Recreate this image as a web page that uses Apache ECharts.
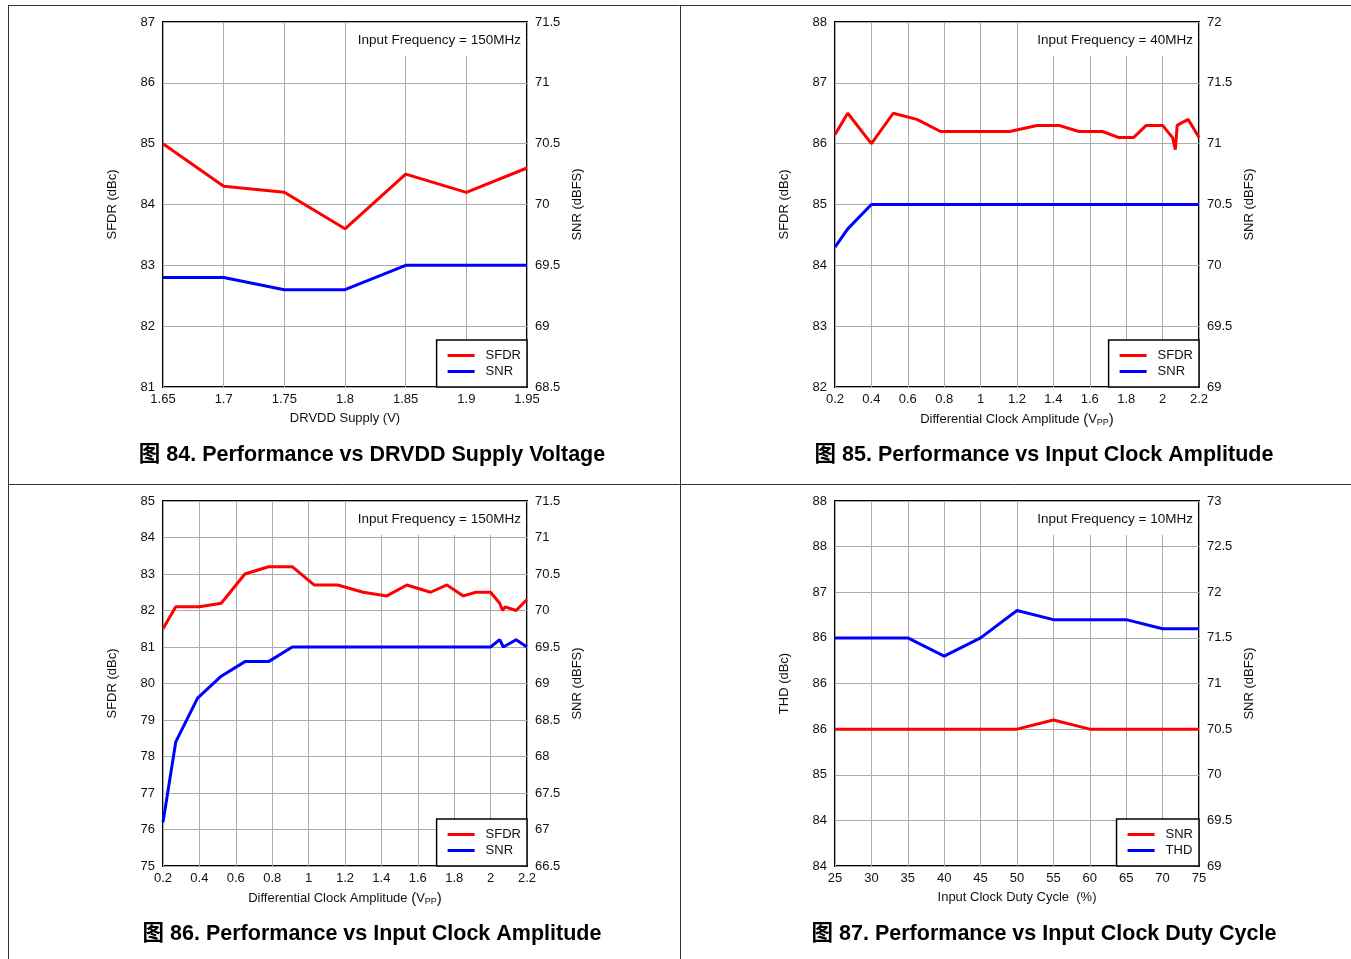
<!DOCTYPE html>
<html>
<head>
<meta charset="utf-8">
<script src="https://cdn.jsdelivr.net/npm/echarts@6/dist/echarts.min.js"></script>
<style>
html,body{margin:0;padding:0;background:#fff;}
#main{width:1351px;height:959px;}
</style>
</head>
<body>
<div id="main"></div>
<script>
// ---------- Data ----------
// Fig 84: Performance vs DRVDD Supply Voltage
const c1X = [1.65, 1.7, 1.75, 1.8, 1.85, 1.9, 1.95];
const c1SFDR = [85, 84.3, 84.2, 83.6, 84.5, 84.2, 84.6];
const c1SNR = [69.4, 69.4, 69.3, 69.3, 69.5, 69.5, 69.5];

// Fig 85: Performance vs Input Clock Amplitude (40MHz)
const c2X = [0.2, 0.27, 0.4, 0.52, 0.65, 0.78, 1.16, 1.31, 1.43, 1.54, 1.67, 1.76, 1.84, 1.91, 2.0, 2.055, 2.07, 2.08, 2.14, 2.2];
const c2SFDR = [86.15, 86.5, 86.0, 86.5, 86.4, 86.2, 86.2, 86.3, 86.3, 86.2, 86.2, 86.1, 86.1, 86.3, 86.3, 86.1, 85.9, 86.3, 86.4, 86.1];
const c2SNR = [70.15, 70.3, 70.5, 70.5, 70.5, 70.5, 70.5, 70.5, 70.5, 70.5, 70.5, 70.5, 70.5, 70.5, 70.5, 70.5, 70.5, 70.5, 70.5, 70.5];

// Fig 86: Performance vs Input Clock Amplitude (150MHz)
const c3X = [0.2, 0.27, 0.4, 0.52, 0.65, 0.78, 0.91, 1.03, 1.16, 1.3, 1.43, 1.54, 1.67, 1.76, 1.85, 1.92, 2.0, 2.05, 2.066, 2.08, 2.14, 2.2];
const c3SFDR = [81.5, 82.1, 82.1, 82.2, 83.0, 83.2, 83.2, 82.7, 82.7, 82.5, 82.4, 82.7, 82.5, 82.7, 82.4, 82.5, 82.5, 82.2, 82.0, 82.1, 82.0, 82.3];
const c3SnrX = [0.2, 0.27, 0.39, 0.52, 0.65, 0.78, 0.91, 1.2, 1.6, 2.0, 2.05, 2.07, 2.14, 2.2];
const c3SNR = [67.1, 68.2, 68.8, 69.1, 69.3, 69.3, 69.5, 69.5, 69.5, 69.5, 69.6, 69.5, 69.6, 69.5];

// Fig 87: Performance vs Input Clock Duty Cycle
const c4X = [25, 30, 35, 40, 45, 50, 55, 60, 65, 70, 75];
const c4THD = [86.5, 86.5, 86.5, 86.3, 86.5, 86.8, 86.7, 86.7, 86.7, 86.6, 86.6];
const c4SNR = [70.5, 70.5, 70.5, 70.5, 70.5, 70.5, 70.6, 70.5, 70.5, 70.5, 70.5];
const c4ThdTickLabels = ['84', '84', '85', '86', '86', '86', '87', '88', '88'];

const captions = [
  '图 84. Performance vs DRVDD Supply Voltage',
  '图 85. Performance vs Input Clock Amplitude',
  '图 86. Performance vs Input Clock Amplitude',
  '图 87. Performance vs Input Clock Duty Cycle'
];
const notes = ['Input Frequency = 150MHz', 'Input Frequency = 40MHz', 'Input Frequency = 150MHz', 'Input Frequency = 10MHz'];

// ---------- Layout ----------
const FONT = '"Liberation Sans", Arial, "Noto Sans CJK SC", sans-serif';
const TXT = '#111';
const GRIDC = '#ababab';
const RED = '#ff0000', BLUE = '#0000ff';
const W = 1351, H = 959;
const panels = [
  {left: 163, top: 22},
  {left: 835, top: 22},
  {left: 163, top: 501},
  {left: 835, top: 501}
];
const PW = 364, PH = 365;

const zip = (xs, ys) => xs.map((x, i) => [x, ys[i]]);

const xCfg = [
  {min: 1.65, max: 1.95, interval: 0.05, name: 'DRVDD Supply (V)'},
  {min: 0.2, max: 2.2, interval: 0.2, name: 'Differential Clock Amplitude {s|(}V{sub|PP}{s|)}'},
  {min: 0.2, max: 2.2, interval: 0.2, name: 'Differential Clock Amplitude {s|(}V{sub|PP}{s|)}'},
  {min: 25, max: 75, interval: 5, name: 'Input Clock Duty Cycle  (%)'}
];
const yL = [
  {min: 81, max: 87, interval: 1, name: 'SFDR (dBc)'},
  {min: 82, max: 88, interval: 1, name: 'SFDR (dBc)'},
  {min: 75, max: 85, interval: 1, name: 'SFDR (dBc)'},
  {min: 84, max: 88, interval: 0.5, name: 'THD (dBc)', fmt: (v, i) => c4ThdTickLabels[i]}
];
const yR = [
  {min: 68.5, max: 71.5, interval: 0.5},
  {min: 69, max: 72, interval: 0.5},
  {min: 66.5, max: 71.5, interval: 0.5},
  {min: 69, max: 73, interval: 0.5}
];

const grid = [], xAxis = [], yAxis = [], series = [], legend = [], graphic = [];
const nameMap = {};

panels.forEach((p, i) => {
  grid.push({left: p.left, top: p.top, width: PW, height: PH, show: true,
    borderColor: '#000', borderWidth: 2, backgroundColor: '#fff', z: 0});
  xAxis.push({
    type: 'value', gridIndex: i, min: xCfg[i].min, max: xCfg[i].max, interval: xCfg[i].interval,
    name: xCfg[i].name, nameLocation: 'middle', nameGap: 25,
    nameTextStyle: {fontFamily: FONT, fontSize: 13, color: TXT,
      rich: {sub: {fontSize: 9, verticalAlign: 'bottom', padding: [6, 0, 0, 0], fontFamily: FONT, color: TXT},
             s: {fontSize: 15, fontFamily: FONT, color: TXT}}},
    axisLine: {show: false}, axisTick: {show: false},
    axisLabel: {fontFamily: FONT, fontSize: 13, color: TXT, margin: 6, showMinLabel: true, showMaxLabel: true},
    splitLine: {show: true, lineStyle: {color: GRIDC, width: 1}}
  });
  yAxis.push({
    type: 'value', gridIndex: i, position: 'left', min: yL[i].min, max: yL[i].max, interval: yL[i].interval,
    name: yL[i].name, nameLocation: 'middle', nameGap: 44, nameRotate: 90,
    nameTextStyle: {fontFamily: FONT, fontSize: 13, color: TXT},
    axisLine: {show: false}, axisTick: {show: false},
    axisLabel: Object.assign({fontFamily: FONT, fontSize: 13, color: TXT, margin: 8}, yL[i].fmt ? {formatter: yL[i].fmt} : {}),
    splitLine: {show: true, lineStyle: {color: GRIDC, width: 1}}
  });
  yAxis.push({
    type: 'value', gridIndex: i, position: 'right', min: yR[i].min, max: yR[i].max, interval: yR[i].interval,
    name: 'SNR (dBFS)', nameLocation: 'middle', nameGap: 44, nameRotate: 90,
    nameTextStyle: {fontFamily: FONT, fontSize: 13, color: TXT},
    axisLine: {show: false}, axisTick: {show: false},
    axisLabel: {fontFamily: FONT, fontSize: 13, color: TXT, margin: 8},
    splitLine: {show: false}
  });
});

function addLine(id, label, gi, yi, data, color) {
  nameMap[id] = label;
  series.push({name: id, type: 'line', xAxisIndex: gi, yAxisIndex: yi, data: data,
    showSymbol: false, symbol: 'none', lineStyle: {color: color, width: 3}, itemStyle: {color: color},
    animation: false, z: 3});
}
addLine('c1a', 'SFDR', 0, 0, zip(c1X, c1SFDR), RED);
addLine('c1b', 'SNR', 0, 1, zip(c1X, c1SNR), BLUE);
addLine('c2a', 'SFDR', 1, 2, zip(c2X, c2SFDR), RED);
addLine('c2b', 'SNR', 1, 3, zip(c2X, c2SNR), BLUE);
addLine('c3a', 'SFDR', 2, 4, zip(c3X, c3SFDR), RED);
addLine('c3b', 'SNR', 2, 5, zip(c3SnrX, c3SNR), BLUE);
addLine('c4a', 'SNR', 3, 7, zip(c4X, c4SNR), RED);
addLine('c4b', 'THD', 3, 6, zip(c4X, c4THD), BLUE);

const legendItems = [['c1a', 'c1b'], ['c2a', 'c2b'], ['c3a', 'c3b'], ['c4a', 'c4b']];
panels.forEach((p, i) => {
  legend.push({
    data: legendItems[i], orient: 'vertical',
    right: W - (p.left + PW), bottom: H - (p.top + PH),
    formatter: n => nameMap[n], selectedMode: false,
    backgroundColor: '#fff', borderColor: '#000', borderWidth: 1.5, borderRadius: 0,
    padding: [9, 6, 9, 11], itemGap: 3, itemWidth: 27, itemHeight: 3, icon: 'rect',
    textStyle: {fontFamily: FONT, fontSize: 13, color: TXT, padding: [0, 0, 0, 6]}, z: 5
  });
  // annotation with white box
  graphic.push({type: 'rect', z: 4, shape: {x: p.left + PW - 174, y: p.top + 1, width: 173, height: 33},
    style: {fill: '#fff'}});
  graphic.push({type: 'text', z: 5, x: p.left + PW - 6, y: p.top + 18,
    style: {text: notes[i], font: '13.5px ' + FONT, fill: TXT, textAlign: 'right', textVerticalAlign: 'middle'}});
  // caption
  graphic.push({type: 'text', z: 5, x: p.left + 209, y: p.top + 433,
    style: {text: captions[i], font: 'bold 21.5px ' + FONT, fill: '#000', textAlign: 'center', textVerticalAlign: 'middle'}});
});

// panel borders
const LC = '#333';
graphic.push({type: 'line', z: 6, shape: {x1: 8, y1: 5.5, x2: W, y2: 5.5}, style: {stroke: LC, lineWidth: 1}});
graphic.push({type: 'line', z: 6, shape: {x1: 8.5, y1: 5, x2: 8.5, y2: H}, style: {stroke: LC, lineWidth: 1}});
graphic.push({type: 'line', z: 6, shape: {x1: 680.5, y1: 5, x2: 680.5, y2: H}, style: {stroke: LC, lineWidth: 1}});
graphic.push({type: 'line', z: 6, shape: {x1: 8, y1: 484.5, x2: W, y2: 484.5}, style: {stroke: LC, lineWidth: 1}});

const chart = echarts.init(document.getElementById('main'), null, {renderer: 'canvas'});
chart.setOption({
  backgroundColor: '#fff',
  animation: false,
  textStyle: {fontFamily: FONT},
  grid, xAxis, yAxis, series, legend, graphic
});
</script>
</body>
</html>
